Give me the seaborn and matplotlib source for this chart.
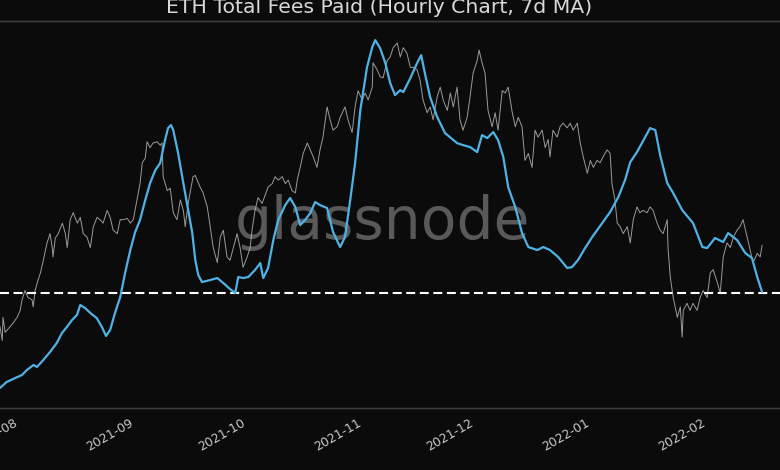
import numpy as np
import pandas as pd
import seaborn as sns
import matplotlib.pyplot as plt
import matplotlib.dates as mdates

# 7d MA of hourly fees (ETH/hour), position = days after 2021-08-01
fee_days = [-5.4, -3.6, -1.3, 0.5, 1.8, 3.6, 4.5, 6.2, 8.0, 9.8, 11.2, 12.5, 13.9, 15.2,
            16.1, 17.4, 18.8, 20.5, 21.9, 23.0, 24.1, 25.4, 26.8, 28.1, 29.5, 30.8, 32.1,
            33.5, 34.8, 36.2, 37.5, 38.8, 39.6, 40.4, 41.0, 42.3, 43.7, 45.0, 46.1, 46.9,
            47.7, 48.7, 50.9, 52.8, 54.4, 56.2, 57.6, 58.4, 59.7, 61.1, 62.9, 64.3, 65.1,
            66.4, 67.8, 69.1, 71.0, 72.3, 73.7, 75.0, 76.3, 77.7, 79.0, 80.3, 82.2, 83.8,
            85.7, 87.0, 88.4, 89.7, 91.1, 92.9, 94.3, 95.1, 96.4, 97.8, 99.1, 100.4, 101.8,
            102.6, 104.5, 106.3, 107.4, 108.5, 109.8, 111.7, 113.8, 117.0, 118.6, 120.5,
            122.4, 123.7, 125.1, 126.7, 128.0, 129.4, 130.7, 132.6, 134.4, 136.1, 138.5,
            140.1, 141.9, 144.1, 146.5, 147.8, 149.4, 151.3, 153.2, 155.9, 158.0, 160.2,
            162.0, 163.4, 165.2, 167.4, 168.7, 170.1, 171.4, 173.3, 174.9, 177.3, 180.2,
            182.7, 184.0, 186.1, 188.3, 189.6, 192.0, 194.2, 196.0, 197.4, 198.7]
fee_vals = [20, 26, 30, 33, 38, 43, 41, 48, 56, 65, 75, 81, 88, 93,
            103, 100, 95, 90, 81, 72, 78, 95, 111, 135, 158, 176, 188,
            208, 225, 238, 245, 268, 280, 283, 278, 255, 225, 198, 175, 148,
            133, 126, 128, 130, 125, 119, 115, 131, 130, 131, 138, 145, 130,
            140, 168, 188, 203, 210, 201, 183, 188, 195, 206, 203, 200, 176,
            161, 171, 208, 245, 298, 341, 361, 368, 360, 345, 325, 313, 318,
            316, 330, 345, 353, 333, 311, 291, 275, 265, 263, 261,
            256, 273, 270, 276, 268, 251, 221, 201, 175, 161, 158,
            161, 158, 151, 140, 141, 148, 160, 171, 185, 196, 211,
            228, 246, 256, 271, 280, 278, 253, 225, 215, 198, 185,
            161, 160, 170, 166, 175, 168, 155, 150, 131, 116]

# ETH price (USD)
price_days = [-5.4, -4.8, -4.6, -4.0, -3.5, -2.7, -1.9, -0.8, 0.0, 0.5, 1.3, 2.1, 3.2, 3.5,
              4.0, 4.6, 5.4, 6.2, 7.2, 8.0, 8.6, 8.8, 9.4, 10.2, 11.3, 12.1, 12.6, 13.4,
              14.2, 15.3, 16.1, 16.9, 17.9, 18.8, 19.6, 20.6, 21.4, 22.2, 23.3, 24.1, 24.9,
              26.0, 26.8, 27.6, 28.7, 29.5, 30.3, 31.3, 32.1, 32.7, 33.5, 34.0, 34.8, 35.6,
              36.7, 37.5, 38.0, 38.3, 39.4, 40.2, 41.0, 42.0, 42.9, 43.7, 44.2, 45.0, 46.3,
              46.9, 48.2, 49.0, 50.1, 50.9, 51.7, 52.8, 53.6, 54.4, 55.4, 56.2, 57.1, 58.1,
              58.9, 59.7, 60.8, 61.6, 62.1, 62.9, 63.7, 64.8, 65.6, 66.4, 67.5, 68.3, 69.1,
              70.2, 71.0, 71.8, 72.8, 73.7, 74.2, 75.0, 75.8, 76.9, 77.7, 78.5, 79.5, 80.3,
              81.1, 82.2, 83.0, 83.8, 84.9, 85.7, 87.0, 87.8, 88.9, 89.7, 90.5, 91.6, 92.4,
              93.2, 94.3, 94.5, 95.6, 96.4, 97.2, 98.3, 99.1, 99.9, 101.0, 101.8, 102.6,
              103.6, 104.5, 105.3, 106.3, 107.1, 107.9, 109.0, 109.8, 110.6, 111.7, 112.5,
              113.3, 114.4, 115.2, 116.0, 117.0, 117.8, 118.6, 119.7, 120.5, 121.3, 122.4,
              122.9, 123.7, 124.5, 125.3, 126.4, 127.2, 128.0, 129.1, 129.9, 130.7, 131.8,
              132.6, 133.4, 134.4, 135.2, 136.1, 137.1, 137.9, 138.7, 139.8, 140.6, 141.4,
              141.9, 142.7, 143.8, 144.6, 145.4, 146.5, 147.3, 148.1, 149.2, 150.0, 150.8,
              151.9, 152.7, 153.5, 154.5, 155.3, 156.1, 157.2, 158.0, 158.5, 159.3, 159.9,
              160.7, 161.5, 162.6, 163.4, 164.2, 165.2, 166.0, 166.8, 167.9, 168.7, 169.5,
              170.6, 171.4, 172.2, 173.3, 173.5, 174.1, 174.9, 176.0, 176.8, 177.3, 177.6,
              178.6, 179.4, 180.2, 181.3, 182.1, 182.9, 184.0, 184.8, 185.6, 186.7, 187.5,
              188.3, 189.3, 190.2, 191.0, 192.0, 192.8, 193.6, 194.7, 195.5, 196.3, 197.4,
              198.2, 198.7]
price_vals = [2320, 2200, 2400, 2270, 2290, 2320, 2350, 2400, 2460, 2550, 2630, 2570, 2550, 2490,
              2630, 2700, 2780, 2890, 3040, 3120, 3000, 2920, 3080, 3120, 3210, 3120, 3000, 3240,
              3300, 3210, 3260, 3120, 3090, 3000, 3180, 3260, 3240, 3210, 3320, 3260, 3150,
              3120, 3240, 3240, 3250, 3210, 3240, 3410, 3550, 3730, 3770, 3910, 3860, 3900,
              3910, 3880, 3900, 3610, 3490, 3510, 3300, 3240, 3410, 3320, 3180, 3380, 3610,
              3620, 3520, 3470, 3350, 3180, 3000, 2870, 3090, 3150, 2920, 2890, 3000, 3120,
              3000, 2830, 2920, 3000, 3150, 3320, 3430, 3380, 3450, 3520, 3550, 3610, 3580,
              3610, 3550, 3580, 3490, 3470, 3580, 3690, 3810, 3900, 3840, 3780, 3690, 3840,
              3950, 4210, 4100, 4010, 4040, 4120, 4210, 4100, 3990, 4210, 4350, 4270, 4330,
              4270, 4380, 4590, 4530, 4470, 4460, 4610, 4640, 4720, 4760, 4640, 4720,
              4670, 4550, 4550, 4530, 4440, 4270, 4160, 4210, 4100, 4300, 4380,
              4270, 4180, 4330, 4210, 4380, 4100, 4010, 4120, 4300, 4500, 4610,
              4700, 4590, 4500, 4180, 4040, 4160, 4010, 4350, 4330, 4380, 4160,
              4040, 4120, 4040, 3750, 3810, 3690, 4010, 3950, 4010, 3860, 3930,
              3780, 4010, 3950, 4040, 4070, 4030, 4070, 4010, 4070, 3900, 3780,
              3640, 3750, 3690, 3750, 3730, 3780, 3840, 3810, 3550, 3410, 3210,
              3180, 3120, 3180, 3040, 3240, 3350, 3300, 3320, 3300, 3350, 3320,
              3210, 3150, 3120, 3240, 3000, 2750, 2570, 2400, 2490, 2230, 2460,
              2520, 2460, 2520, 2460, 2570, 2630, 2570, 2780, 2810, 2700, 2610,
              2920, 3040, 3000, 3090, 3150, 3180, 3240, 3090, 2980, 2870, 2950,
              2920, 3020]

ref_fee = 115
start = pd.Timestamp('2021-08-01')
fee_df = pd.DataFrame({'t': start + pd.to_timedelta(fee_days, unit='D'), 'fee': fee_vals})
price_df = pd.DataFrame({'t': start + pd.to_timedelta(price_days, unit='D'), 'price': price_vals})

bg = '#0b0b0b'
sns.set_theme(style='dark', rc={'axes.facecolor': bg, 'figure.facecolor': bg,
                                'text.color': '#d0d0d0', 'xtick.color': '#c8c8c8'})
plt.rcParams['font.family'] = ['DejaVu Sans']

fig = plt.figure(figsize=(7.8, 4.7), dpi=100)
ax = fig.add_axes([0.0, 0.132, 1.0, 0.823])
ax2 = ax.twinx()

# watermark sits under the lines
ax2.text(382 / 780, 1 - 239 / 470, 'glassnode', transform=fig.transFigure, fontsize=42,
         color='#595959', ha='center', va='baseline', zorder=1)

sns.lineplot(data=price_df, x='t', y='price', ax=ax2, color='#b4b4b4',
             linewidth=0.7, alpha=0.85, zorder=2)
ax.axhline(ref_fee, color='white', linewidth=1.5, dashes=(4.3, 2.2), zorder=3)
sns.lineplot(data=fee_df, x='t', y='fee', ax=ax, color='#4fb2e6', linewidth=1.6, zorder=4)

ax.set_zorder(ax2.get_zorder() + 1)
ax.patch.set_visible(False)
ax2.patch.set_visible(True)
ax2.patch.set_facecolor(bg)

ax.set_xlim(start - pd.Timedelta(days=5.4), start + pd.Timedelta(days=203.5))
ax.set_ylim(0, 387)
ax2.set_ylim(1620, 4948)

for a in (ax, ax2):
    a.set_xlabel('')
    a.set_ylabel('')
    a.set_yticks([])
    a.grid(False)
    for side in ('left', 'right'):
        a.spines[side].set_visible(False)
    for side in ('top', 'bottom'):
        a.spines[side].set_color('#3c3c3c')
        a.spines[side].set_linewidth(1.0)

ax.xaxis.set_major_locator(mdates.MonthLocator())
ax.xaxis.set_major_formatter(mdates.DateFormatter('%Y-%m'))
ax.tick_params(axis='x', length=0, pad=6, labelsize=9, labelcolor='#c8c8c8')
plt.setp(ax.get_xticklabels(), rotation=30, ha='right')

fig.text(379 / 780, 1 - 12.7 / 470, 'ETH Total Fees Paid (Hourly Chart, 7d MA)',
         fontsize=14.7, color='#d8d8d8', ha='center', va='baseline')

fig.savefig('out.png', dpi=100, facecolor=bg)
